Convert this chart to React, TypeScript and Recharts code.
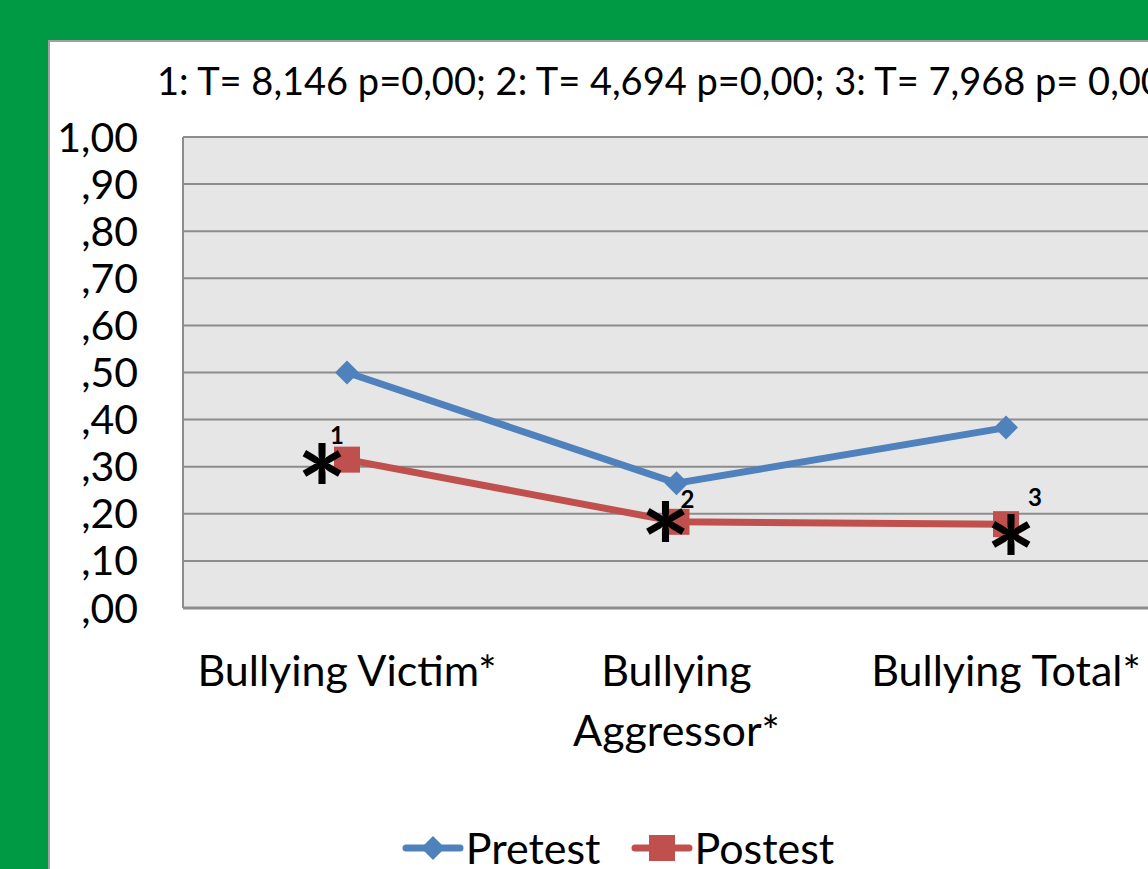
import { LineChart, Line, XAxis, YAxis, CartesianGrid, LabelList } from 'recharts';

// values
const categories = ['Bullying Victim*', 'Bullying Aggressor*', 'Bullying Total*'];
const pretest = [0.5, 0.265, 0.383];
const postest = [0.315, 0.183, 0.178];
const yTicks = [0, 0.1, 0.2, 0.3, 0.4, 0.5, 0.6, 0.7, 0.8, 0.9, 1.0];
const starNumbers = ['1', '2', '3'];
const testNote = '1: T= 8,146 p=0,00; 2: T= 4,694 p=0,00; 3: T= 7,968 p= 0,00';

const BLUE = '#4F81BD';
const RED = '#C0504D';
const FONT = 'Lato, "Open Sans", sans-serif';

const data = categories.map((name, i) => ({
  name,
  pretest: pretest[i],
  postest: postest[i],
  star: starNumbers[i],
}));

const fmtTick = (v: number) => {
  if (v >= 1) return '1,00';
  return ',' + Math.round(v * 100).toString().padStart(2, '0');
};

// greedy word wrap, the way the category band fits them
const wrapLabel = (s: string, maxChars = 17) => {
  const lines: string[] = [];
  let cur = '';
  s.split(' ').forEach(w => {
    const next = cur ? cur + ' ' + w : w;
    if (next.length > maxChars && cur) {
      lines.push(cur);
      cur = w;
    } else {
      cur = next;
    }
  });
  if (cur) lines.push(cur);
  return lines;
};

function Diamond(props: any) {
  const { cx, cy } = props;
  if (cx == null || cy == null) return null;
  const r = 12;
  return <path d={`M${cx},${cy - r}L${cx + r},${cy}L${cx},${cy + r}L${cx - r},${cy}Z`} fill={BLUE} />;
}

function Square(props: any) {
  const { cx, cy } = props;
  if (cx == null || cy == null) return null;
  const s = 13;
  return <rect x={cx - s} y={cy - s} width={s * 2} height={s * 2} fill={RED} />;
}

// offsets of the asterisk / number relative to each postest point
const starOffsets = [
  { ax: -25, ay: 6, nx: -10, ny: -25 },
  { ax: -11, ay: 2, nx: 11, ny: -23 },
  { ax: 5, ay: 13, nx: 29, ny: -28 },
];

function StarLabel(props: any) {
  const { x, y, index, value } = props;
  const o = starOffsets[index] || starOffsets[0];
  return (
    <g fontFamily={FONT} fontWeight={700} fill="#000">
      <text x={x + o.ax} y={y + o.ay + 69} fontSize={120} textAnchor="middle">*</text>
      <text x={x + o.nx} y={y + o.ny} fontSize={24} textAnchor="middle" dominantBaseline="central">{value}</text>
    </g>
  );
}

function CategoryTick(props: any) {
  const { x, y, payload } = props;
  const lines = wrapLabel(String(payload.value));
  return (
    <text x={x} y={y + 70} textAnchor="middle" fontSize={43} fontFamily={FONT} fill="#000">
      {lines.map((ln, i) => (
        <tspan key={i} x={x} dy={i === 0 ? 0 : 60}>{ln}</tspan>
      ))}
    </text>
  );
}

function LegendIcon({ color, shape }: { color: string; shape: 'diamond' | 'square' }) {
  return (
    <svg width={62} height={30} style={{ verticalAlign: 'middle', marginRight: 2 }}>
      <line x1={4} y1={15} x2={58} y2={15} stroke={color} strokeWidth={7} strokeLinecap="round" />
      {shape === 'diamond' ? (
        <path d="M31,3L43,15L31,27L19,15Z" fill={color} />
      ) : (
        <rect x={18} y={2} width={26} height={26} fill={color} />
      )}
    </svg>
  );
}

export default function App() {
  return (
    <div
      style={{
        position: 'fixed',
        left: 0,
        top: 0,
        width: 1148,
        height: 869,
        overflow: 'hidden',
        background: '#009A44',
        fontFamily: FONT,
      }}
    >
      <div
        style={{
          position: 'absolute',
          left: 48,
          top: 40,
          width: 1200,
          height: 900,
          background: '#fff',
          borderLeft: '2px solid #a0a0a0',
          borderTop: '2px solid #a0a0a0',
        }}
      />
      <div
        style={{
          position: 'absolute',
          left: 157,
          top: 56,
          fontSize: 38,
          whiteSpace: 'nowrap',
          color: '#000',
          lineHeight: '48px',
        }}
      >
        {testNote}
      </div>
      <div style={{ position: 'absolute', left: 0, top: 0 }}>
        <LineChart
          width={1250}
          height={869}
          data={data}
          margin={{ top: 137, right: 80, left: 0, bottom: 0 }}
        >
          <CartesianGrid vertical={false} stroke="#8c8c8c" strokeWidth={2} fill="#e6e6e6" />
          <XAxis
            dataKey="name"
            height={261}
            padding={{ left: 164, right: 164 }}
            tickLine={false}
            axisLine={{ stroke: '#8c8c8c', strokeWidth: 3 }}
            tick={<CategoryTick />}
            interval={0}
          />
          <YAxis
            width={183}
            domain={[0, 1]}
            ticks={yTicks}
            tickFormatter={fmtTick}
            tickLine={false}
            tickSize={0}
            tickMargin={45}
            axisLine={{ stroke: '#8c8c8c', strokeWidth: 2 }}
            tick={{ fontSize: 41, fill: '#000', fontFamily: FONT }}
            interval={0}
          />
          <Line
            dataKey="pretest"
            stroke={BLUE}
            strokeWidth={7}
            dot={<Diamond />}
            activeDot={false}
            isAnimationActive={false}
          />
          <Line
            dataKey="postest"
            stroke={RED}
            strokeWidth={7}
            dot={<Square />}
            activeDot={false}
            isAnimationActive={false}
          >
            <LabelList dataKey="star" content={<StarLabel />} />
          </Line>
        </LineChart>
      </div>
      <div
        style={{
          position: 'absolute',
          left: 0,
          width: 1236,
          top: 822,
          display: 'flex',
          justifyContent: 'center',
          alignItems: 'center',
          fontSize: 43,
          color: '#000',
          lineHeight: '52px',
        }}
      >
        <span style={{ display: 'inline-flex', alignItems: 'center', marginRight: 30 }}>
          <LegendIcon color={BLUE} shape="diamond" />
          Pretest
        </span>
        <span style={{ display: 'inline-flex', alignItems: 'center' }}>
          <LegendIcon color={RED} shape="square" />
          Postest
        </span>
      </div>
    </div>
  );
}
